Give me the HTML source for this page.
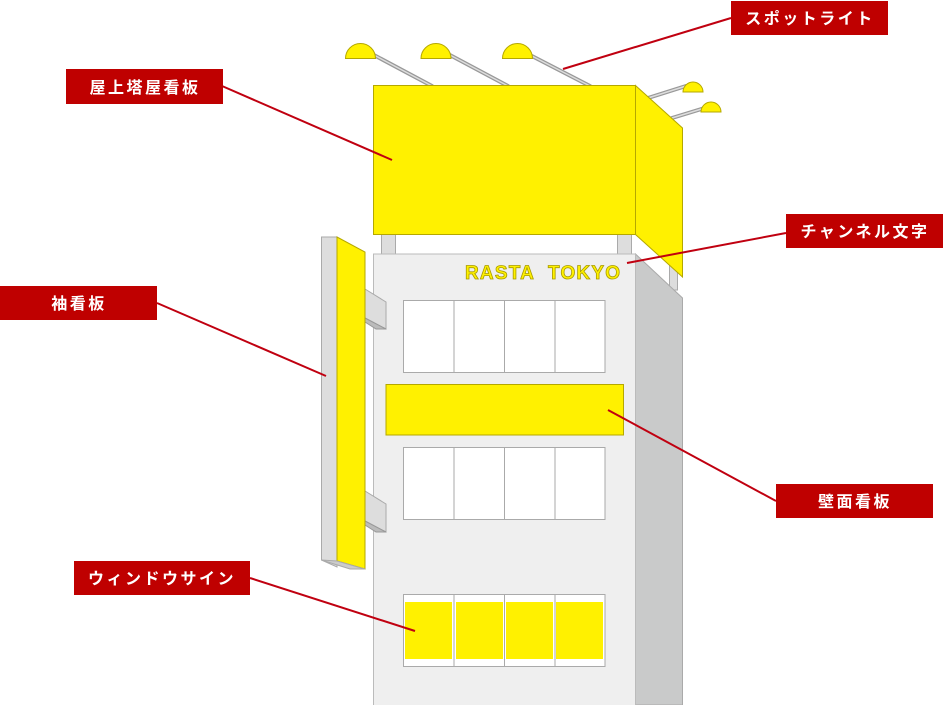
<!DOCTYPE html>
<html><head><meta charset="utf-8"><style>
html,body{margin:0;padding:0;background:#fff;}
svg{display:block;}
.lb{font-family:"Liberation Sans","Noto Sans CJK JP",sans-serif;font-weight:bold;font-size:16px;fill:#fff;letter-spacing:2.5px;}
</style></head><body>
<svg width="943" height="705" viewBox="0 0 943 705" xmlns="http://www.w3.org/2000/svg">
<g stroke="#999" stroke-width="4" stroke-linecap="round">
<line x1="372" y1="54" x2="432" y2="86"/>
<line x1="448" y1="54" x2="508" y2="86"/>
<line x1="528" y1="54" x2="590" y2="86"/>
<line x1="648" y1="98" x2="686" y2="86"/>
<line x1="672" y1="118" x2="708" y2="107"/>
</g>
<g stroke="#ddd" stroke-width="1.5" stroke-linecap="round">
<line x1="372" y1="54" x2="432" y2="86"/>
<line x1="448" y1="54" x2="508" y2="86"/>
<line x1="528" y1="54" x2="590" y2="86"/>
<line x1="648" y1="98" x2="686" y2="86"/>
<line x1="672" y1="118" x2="708" y2="107"/>
</g>
<g fill="#fff100" stroke="#b5a800" stroke-width="1">
<path d="M345.5 58.5 A15 15 0 0 1 375.5 58.5 Z"/>
<path d="M421 58.5 A15 15 0 0 1 451 58.5 Z"/>
<path d="M502.5 58.5 A15 15 0 0 1 532.5 58.5 Z"/>
<path d="M683 92 A10 10 0 0 1 703 92 Z"/>
<path d="M701 112 A10 10 0 0 1 721 112 Z"/>
</g>
<g fill="#ddd" stroke="#aaa">
<rect x="381.5" y="234" width="14" height="21"/>
<rect x="617.5" y="234" width="14" height="21"/>
<rect x="669.5" y="262" width="8" height="28"/>
</g>
<polygon points="635.5,254 682.5,298 682.5,705 635.5,705" fill="#c9caca" stroke="#aaa"/>
<rect x="373.5" y="254" width="262" height="452" fill="#efefef" stroke="#bbb"/>
<rect x="373.5" y="85.5" width="262" height="149" fill="#fff100" stroke="#b5a800"/>
<polygon points="635.5,85.5 682.5,128 682.5,277 635.5,234.5" fill="#fff100" stroke="#b5a800"/>
<text x="465" y="279" textLength="158" lengthAdjust="spacing" font-family="'Liberation Sans',sans-serif" font-weight="bold" font-size="19" letter-spacing="3" fill="#fff100" stroke="#a89b00" stroke-width="0.8">RASTA&#160;&#160;TOKYO</text>
<g fill="#ddd" stroke="#aaa">
<polygon points="365,289 386,302 386,329 365,318"/>
<polygon points="365,491 386,504 386,532 365,521"/>
</g>
<g fill="#bbb" stroke="#999"><polygon points="365,318 386,329 376,329 365,322"/><polygon points="365,521 386,532 376,532 365,525"/></g>
<polygon points="321.5,237 337,237 337,567 321.5,560" fill="#ddd" stroke="#aaa"/>
<polygon points="337,237 365,252 365,569 337,561" fill="#fff100" stroke="#b5a800"/>
<polygon points="321.5,560 337,561 365,569 350,569" fill="#ccc" stroke="#aaa"/>
<g fill="#fff" stroke="#aaa" stroke-width="1">
<rect x="403.5" y="300.5" width="50.5" height="72"/><rect x="454" y="300.5" width="50.5" height="72"/><rect x="504.5" y="300.5" width="50.5" height="72"/><rect x="555" y="300.5" width="50" height="72"/>
<rect x="403.5" y="447.5" width="50.5" height="72"/><rect x="454" y="447.5" width="50.5" height="72"/><rect x="504.5" y="447.5" width="50.5" height="72"/><rect x="555" y="447.5" width="50" height="72"/>
<rect x="403.5" y="594.5" width="50.5" height="72"/><rect x="454" y="594.5" width="50.5" height="72"/><rect x="504.5" y="594.5" width="50.5" height="72"/><rect x="555" y="594.5" width="50" height="72"/>
</g>
<g fill="#fff100">
<rect x="405" y="602" width="47" height="57"/><rect x="456" y="602" width="47" height="57"/><rect x="506" y="602" width="47" height="57"/><rect x="556" y="602" width="47" height="57"/>
</g>
<rect x="386" y="384.5" width="237.5" height="50.5" fill="#fff100" stroke="#b5a800"/>
<g stroke="#c00010" stroke-width="2">
<line x1="731" y1="18" x2="563" y2="69"/>
<line x1="222" y1="86" x2="392" y2="160"/>
<line x1="786" y1="233" x2="627" y2="263"/>
<line x1="157" y1="303" x2="326" y2="376"/>
<line x1="776" y1="501" x2="608" y2="410"/>
<line x1="250" y1="578" x2="415" y2="631"/>
</g>
<g fill="#bf0000">
<rect x="731" y="1" width="157" height="34"/>
<rect x="66" y="69" width="157" height="35"/>
<rect x="786" y="214" width="157" height="34"/>
<rect x="0" y="286" width="157" height="34"/>
<rect x="776" y="484" width="157" height="34"/>
<rect x="74" y="561" width="176" height="34"/>
</g>
<text class="lb" x="810" y="24" text-anchor="middle">スポットライト</text>
<text class="lb" x="145" y="93" text-anchor="middle">屋上塔屋看板</text>
<text class="lb" x="865" y="237" text-anchor="middle">チャンネル文字</text>
<text class="lb" x="79" y="309" text-anchor="middle">袖看板</text>
<text class="lb" x="855" y="507" text-anchor="middle">壁面看板</text>
<text class="lb" x="162" y="584" text-anchor="middle">ウィンドウサイン</text>
</svg>
</body></html>
